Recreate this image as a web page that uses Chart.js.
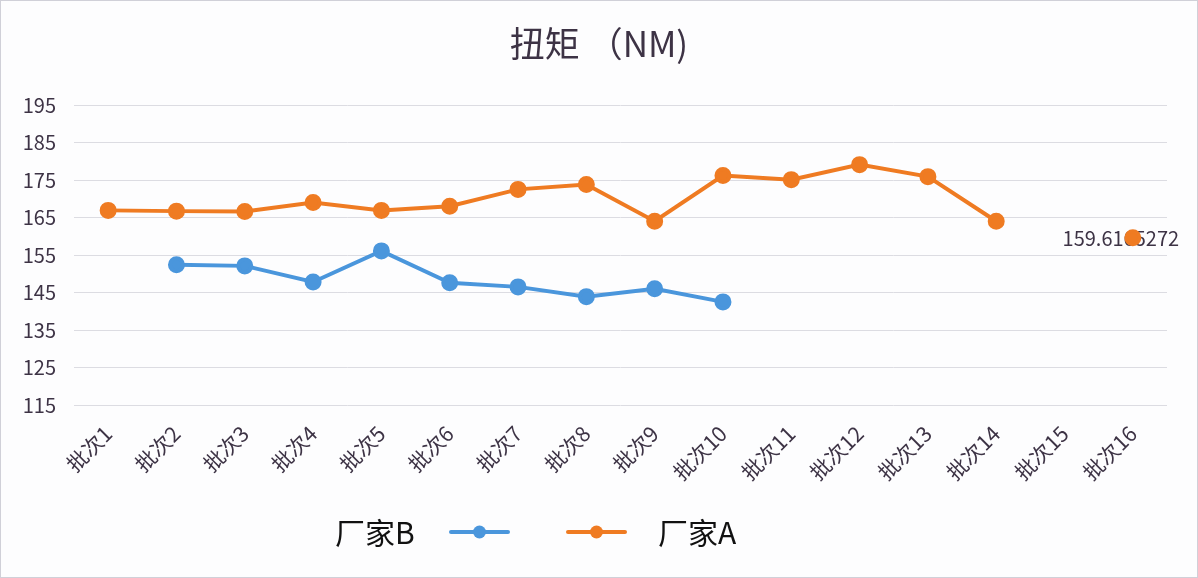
<!DOCTYPE html>
<html>
<head>
<meta charset="utf-8">
<script src="https://cdn.jsdelivr.net/npm/chart.js@4.4.0/dist/chart.umd.min.js"></script>
<style>
  html, body { margin: 0; padding: 0; background: #fff; }
  #wrap { width: 1198px; height: 578px; box-sizing: border-box; border: 1px solid #d0d0d8; background: #fdfdfe; }
</style>
</head>
<body>
<div id="wrap"><canvas id="c" width="1196" height="576"></canvas></div>
<script>
/* ---------- data ---------- */
const batches = ['批次1','批次2','批次3','批次4','批次5','批次6','批次7','批次8',
                 '批次9','批次10','批次11','批次12','批次13','批次14','批次15','批次16'];
const vendorB = [null, 152.4, 152.1, 147.8, 156.1, 147.6, 146.5, 143.9, 146.0, 142.5,
                 null, null, null, null, null, null];
const vendorA = [166.9, 166.7, 166.6, 169.0, 166.9, 168.0, 172.5, 173.8, 164.0, 176.2,
                 175.1, 179.1, 175.9, 164.0, null, 159.6165272];
const yTicks = [115, 125, 135, 145, 155, 165, 175, 185, 195];
const labelText = '159.6165272';
const titleText = '扭矩 （NM)';

const FONT = '"Microsoft YaHei", "Noto Sans CJK SC", sans-serif';
const TEXT = '#3d3345';
const BLUE = '#4a96dc';
const ORANGE = '#ef7b22';

/* ---------- helpers ---------- */
// title centred on the whole canvas
const centredTitle = {
  id: 'centredTitle',
  afterDraw(chart) {
    const ctx = chart.ctx;
    ctx.save();
    ctx.font = '35px ' + FONT;
    ctx.fillStyle = TEXT;
    ctx.textAlign = 'center';
    ctx.textBaseline = 'middle';
    ctx.fillText(titleText, chart.width / 2, 43);
    ctx.restore();
  }
};

// value label for the last orange point
const pointLabel = {
  id: 'pointLabel',
  beforeDatasetsDraw(chart) {
    const meta = chart.getDatasetMeta(1);
    const pt = meta.data[vendorA.length - 1];
    if (!pt) return;
    const ctx = chart.ctx;
    ctx.save();
    ctx.font = '20px ' + FONT;
    ctx.fillStyle = TEXT;
    ctx.textAlign = 'center';
    ctx.textBaseline = 'middle';
    ctx.fillText(labelText, pt.x - 12, pt.y + 1);
    ctx.restore();
  }
};

// legend: "厂家B ─●─     ─●─ 厂家A"
const customLegend = {
  id: 'customLegend',
  afterDraw(chart) {
    const ctx = chart.ctx;
    const y = 531;
    const drawIcon = (x, color) => {
      ctx.strokeStyle = color;
      ctx.lineWidth = 4;
      ctx.lineCap = 'round';
      ctx.beginPath();
      ctx.moveTo(x, y);
      ctx.lineTo(x + 57, y);
      ctx.stroke();
      ctx.fillStyle = color;
      ctx.beginPath();
      ctx.arc(x + 28.5, y, 6.5, 0, Math.PI * 2);
      ctx.fill();
    };
    ctx.save();
    ctx.font = '30px ' + FONT;
    ctx.fillStyle = '#111';
    ctx.textBaseline = 'middle';
    ctx.textAlign = 'left';
    ctx.fillText(chart.data.datasets[0].label, 334, y + 1);
    drawIcon(450, chart.data.datasets[0].borderColor);
    drawIcon(567, chart.data.datasets[1].borderColor);
    ctx.fillStyle = '#111';
    ctx.fillText(chart.data.datasets[1].label, 657, y + 1);
    ctx.restore();
  }
};

/* ---------- main ---------- */
new Chart(document.getElementById('c').getContext('2d'), {
  type: 'line',
  data: {
    labels: batches,
    datasets: [
      {
        label: '厂家B', data: vendorB,
        borderColor: BLUE, backgroundColor: BLUE,
        borderWidth: 4, pointRadius: 6.5, pointHoverRadius: 6.5,
        spanGaps: false, tension: 0
      },
      {
        label: '厂家A', data: vendorA,
        borderColor: ORANGE, backgroundColor: ORANGE,
        borderWidth: 4, pointRadius: 6.5, pointHoverRadius: 6.5,
        spanGaps: false, tension: 0
      }
    ]
  },
  options: {
    responsive: false,
    animation: false,
    layout: { padding: { left: 0, right: 30, top: 104, bottom: 92 } },
    plugins: {
      legend: { display: false },
      tooltip: { enabled: false },
      title: { display: false }
    },
    scales: {
      x: {
        offset: true,
        grid: { display: false },
        border: { display: false },
        ticks: {
          color: TEXT,
          font: { family: FONT, size: 21 },
          minRotation: 45, maxRotation: 45,
          autoSkip: false, padding: 8
        },
        afterFit: s => { s.height = 80; }
      },
      y: {
        min: 115, max: 195,
        afterBuildTicks: s => { s.ticks = yTicks.map(v => ({ value: v })); },
        grid: { color: '#dcdce2', lineWidth: 1, drawTicks: false },
        border: { display: false },
        ticks: {
          color: TEXT,
          font: { family: FONT, size: 20 },
          padding: 18
        },
        afterFit: s => { s.width = 73; }
      }
    }
  },
  plugins: [centredTitle, pointLabel, customLegend]
});
</script>
</body>
</html>
